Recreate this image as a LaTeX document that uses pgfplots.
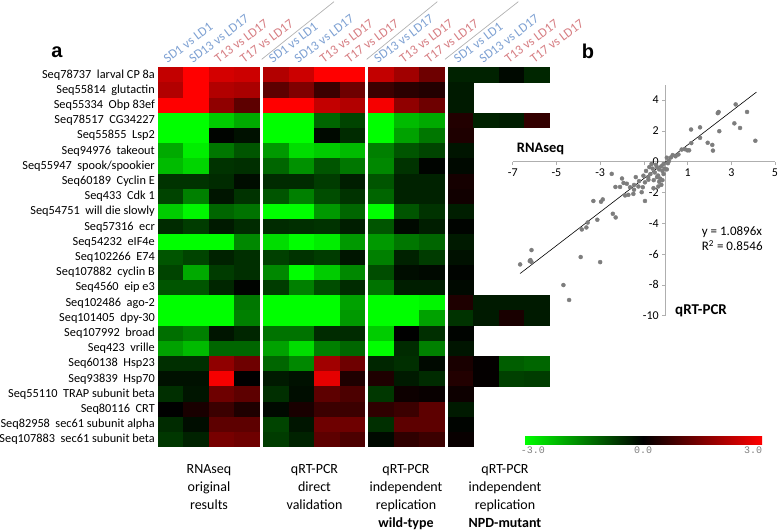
\documentclass[border=0pt]{standalone}
\usepackage{fontspec}
\setmainfont{Carlito}
\newfontfamily\arialfont{Liberation Sans}
\newfontfamily\cbmono{Liberation Mono}
\usepackage{pgfplots}
\pgfplotsset{compat=1.18}
\definecolor{sdb}{RGB}{125,160,210}
\definecolor{tr}{RGB}{214,125,130}
\definecolor{axg}{RGB}{175,175,175}
\definecolor{dot}{RGB}{125,125,125}
\pgfdeclareplotmark{cell}{\pgfpathrectangle{\pgfpoint{-12.9pt}{-7.75pt}}{\pgfpoint{25.8pt}{15.5pt}}\pgfusepathqfill}
\pgfplotsset{colormap={gr}{rgb255=(0,255,0) rgb255=(0,0,0) rgb255=(255,0,0)}}
\newcommand{\gp}{\hspace{0.45em}}
\newcommand{\fs}[1]{\fontsize{#1}{#1}\selectfont}
\newcommand{\hA}{\textcolor{sdb}{SD1 vs LD1}}
\newcommand{\hB}{\textcolor{sdb}{SD13 vs LD17}}
\newcommand{\hC}{\textcolor{tr}{T13 vs LD17}}
\newcommand{\hD}{\textcolor{tr}{T17 vs LD17}}
\begin{document}
\begin{tikzpicture}
\useasboundingbox (0,0) rectangle (778pt,531pt);
% ---------------- heatmap (a) ----------------
\begin{axis}[
  at={(158pt,83.7pt)}, anchor=south west,
  x=25.5pt, y=15.2pt,
  xmin=-0.5, xmax=14.875, ymin=0.5, ymax=25.5,
  clip=false,
  axis line style={draw=none},
  major tick length=0pt,
  tick style={draw=none},
  xticklabel pos=right,
  xtick={0,1,2,3,4.125,5.125,6.125,7.125,8.25,9.25,10.25,11.375,12.375,13.375,14.375},
  xticklabels={\hA,\hB,\hC,\hD,\hA,\hB,\hC,\hD,\hB,\hC,\hD,\hA,\hB,\hC,\hD},
  xticklabel style={xshift=-3pt, yshift=3.5pt, rotate=37, anchor=south west, inner sep=0pt, font=\fs{13}},
  ytick={25,24,...,1},
  yticklabels={Seq78737\gp larval CP 8a, Seq55814\gp glutactin, Seq55334\gp Obp 83ef, Seq78517\gp CG34227, Seq55855\gp Lsp2, Seq94976\gp takeout, Seq55947\gp spook/spookier, Seq60189\gp Cyclin E, Seq433\gp Cdk 1, Seq54751\gp will die slowly, Seq57316\gp ecr, Seq54232\gp eIF4e, Seq102266\gp E74, Seq107882\gp cyclin B, Seq4560\gp eip e3, Seq102486\gp ago-2, Seq101405\gp dpy-30, Seq107992\gp broad, Seq423\gp vrille, Seq60138\gp Hsp23, Seq93839\gp Hsp70, Seq55110\gp TRAP subunit beta, Seq80116\gp CRT, Seq82958\gp sec61 subunit alpha, Seq107883\gp sec61 subunit beta},
  yticklabel style={anchor=east, inner sep=0pt, xshift=-3pt, font=\fs{12.3}},
  colormap name=gr, point meta min=-3, point meta max=3,
]
% panel 1: RNAseq original results
\addplot[scatter, only marks, mark=cell, point meta=explicit, scatter/use mapped color={draw=none,fill=mapped color}] coordinates {
(0,25)[2.3] (1,25)[3] (2,25)[2.5] (3,25)[2.4]
(0,24)[2.1] (1,24)[3] (2,24)[2.1] (3,24)[2.0]
(0,23)[3] (1,23)[3] (2,23)[1.7] (3,23)[1.1]
(0,22)[-3] (1,22)[-3] (2,22)[-2.4] (3,22)[-2.0]
(0,21)[-3] (1,21)[-3] (2,21)[-0.05] (3,21)[-0.2]
(0,20)[-2.0] (1,20)[-2.8] (2,20)[-1.4] (3,20)[-1.0]
(0,19)[-2.2] (1,19)[-2.5] (2,19)[-0.6] (3,19)[-0.55]
(0,18)[-0.6] (1,18)[-0.6] (2,18)[-0.5] (3,18)[-0.15]
(0,17)[-0.8] (1,17)[-1.5] (2,17)[-0.25] (3,17)[-0.6]
(0,16)[-2.4] (1,16)[-2.9] (2,16)[-1.2] (3,16)[-1.35]
(0,15)[-0.5] (1,15)[-0.7] (2,15)[-0.3] (3,15)[-0.5]
(0,14)[-3] (1,14)[-3] (2,14)[-3] (3,14)[-1.6]
(0,13)[-1.0] (1,13)[-0.8] (2,13)[-0.4] (3,13)[-0.55]
(0,12)[-0.8] (1,12)[-2.0] (2,12)[-0.7] (3,12)[-0.55]
(0,11)[-1.0] (1,11)[-1.0] (2,11)[-0.45] (3,11)[-0.05]
(0,10)[-3] (1,10)[-3] (2,10)[-3] (3,10)[-1.4]
(0,9)[-3] (1,9)[-3] (2,9)[-3] (3,9)[-1.5]
(0,8)[-1.3] (1,8)[-1.5] (2,8)[-0.25] (3,8)[-0.45]
(0,7)[-1.9] (1,7)[-2.2] (2,7)[-1.2] (3,7)[-1.2]
(0,6)[-0.55] (1,6)[-0.55] (2,6)[1.7] (3,6)[1.3]
(0,5)[-0.2] (1,5)[-0.2] (2,5)[2.9] (3,5)[0]
(0,4)[-0.55] (1,4)[-0.25] (2,4)[1.3] (3,4)[1.1]
(0,3)[0] (1,3)[0.3] (2,3)[0.7] (3,3)[0.35]
(0,2)[-0.5] (1,2)[-0.15] (2,2)[1.1] (3,2)[1.1]
(0,1)[-0.65] (1,1)[-0.4] (2,1)[1.4] (3,1)[1.3]
};
% panel 2: qRT-PCR direct validation
\addplot[scatter, only marks, mark=cell, point meta=explicit, scatter/use mapped color={draw=none,fill=mapped color}] coordinates {
(4.125,25)[2.1] (5.125,25)[2.4] (6.125,25)[3] (7.125,25)[3]
(4.125,24)[1.1] (5.125,24)[1.5] (6.125,24)[0.7] (7.125,24)[1.3]
(4.125,23)[3] (5.125,23)[3] (6.125,23)[2.3] (7.125,23)[2.1]
(4.125,22)[-3] (5.125,22)[-3] (6.125,22)[-1.2] (7.125,22)[-0.8]
(4.125,21)[-3] (5.125,21)[-3] (6.125,21)[-0.1] (7.125,21)[-0.5]
(4.125,20)[-1.8] (5.125,20)[-2.6] (6.125,20)[-2.4] (7.125,20)[-2.2]
(4.125,19)[-1.2] (5.125,19)[-1.7] (6.125,19)[-1.0] (7.125,19)[-1.4]
(4.125,18)[-0.5] (5.125,18)[-0.5] (6.125,18)[-0.7] (7.125,18)[-0.35]
(4.125,17)[-1.0] (5.125,17)[-1.5] (6.125,17)[-0.9] (7.125,17)[-0.6]
(4.125,16)[-3] (5.125,16)[-3] (6.125,16)[-1.8] (7.125,16)[-1.2]
(4.125,15)[-0.5] (5.125,15)[-0.55] (6.125,15)[-0.6] (7.125,15)[-0.35]
(4.125,14)[-2.6] (5.125,14)[-3] (6.125,14)[-2.8] (7.125,14)[-1.8]
(4.125,13)[-0.75] (5.125,13)[-0.6] (6.125,13)[-0.7] (7.125,13)[-0.25]
(4.125,12)[-1.6] (5.125,12)[-3] (6.125,12)[-2.4] (7.125,12)[-1.6]
(4.125,11)[-0.7] (5.125,11)[-1.5] (6.125,11)[-0.9] (7.125,11)[-0.5]
(4.125,10)[-3] (5.125,10)[-3] (6.125,10)[-3] (7.125,10)[-1.9]
(4.125,9)[-3] (5.125,9)[-3] (6.125,9)[-3] (7.125,9)[-1.8]
(4.125,8)[-1.35] (5.125,8)[-1.35] (6.125,8)[-0.5] (7.125,8)[-0.5]
(4.125,7)[-1.9] (5.125,7)[-2.6] (6.125,7)[-1.5] (7.125,7)[-1.2]
(4.125,6)[-1.2] (5.125,6)[-1.6] (6.125,6)[1.9] (7.125,6)[1.3]
(4.125,5)[-0.3] (5.125,5)[-0.2] (6.125,5)[2.7] (7.125,5)[0.35]
(4.125,4)[-0.55] (5.125,4)[-0.15] (6.125,4)[1.1] (7.125,4)[0.9]
(4.125,3)[-0.1] (5.125,3)[0.3] (6.125,3)[0.7] (7.125,3)[0.7]
(4.125,2)[-0.8] (5.125,2)[-0.25] (6.125,2)[1.3] (7.125,2)[1.3]
(4.125,1)[-0.7] (5.125,1)[-0.4] (6.125,1)[1.1] (7.125,1)[0.9]
};
% panel 3: qRT-PCR independent replication wild-type
\addplot[scatter, only marks, mark=cell, point meta=explicit, scatter/use mapped color={draw=none,fill=mapped color}] coordinates {
(8.25,25)[2.3] (9.25,25)[1.9] (10.25,25)[1.3]
(8.25,24)[0.7] (9.25,24)[0.5] (10.25,24)[0.4]
(8.25,23)[2.9] (9.25,23)[1.7] (10.25,23)[1.3]
(8.25,22)[-3] (9.25,22)[-2.2] (10.25,22)[-2.0]
(8.25,21)[-3] (9.25,21)[-1.9] (10.25,21)[-1.4]
(8.25,20)[-1.5] (9.25,20)[-1.0] (10.25,20)[-0.8]
(8.25,19)[-1.6] (9.25,19)[-0.6] (10.25,19)[-0.05]
(8.25,18)[-1.0] (9.25,18)[-0.4] (10.25,18)[-0.4]
(8.25,17)[-1.2] (9.25,17)[-0.4] (10.25,17)[-0.4]
(8.25,16)[-3] (9.25,16)[-1.0] (10.25,16)[-0.6]
(8.25,15)[-1.0] (9.25,15)[-0.1] (10.25,15)[-0.35]
(8.25,14)[-1.8] (9.25,14)[-1.4] (10.25,14)[-1.2]
(8.25,13)[-1.5] (9.25,13)[-0.4] (10.25,13)[-0.7]
(8.25,12)[-0.9] (9.25,12)[-0.15] (10.25,12)[-0.1]
(8.25,11)[-1.35] (9.25,11)[-0.35] (10.25,11)[-0.35]
(8.25,10)[-3] (9.25,10)[-3] (10.25,10)[-2.9]
(8.25,9)[-3] (9.25,9)[-3] (10.25,9)[-1.9]
(8.25,8)[-2.4] (9.25,8)[0] (10.25,8)[-0.55]
(8.25,7)[-3] (9.25,7)[-0.5] (10.25,7)[-1.5]
(8.25,6)[-0.45] (9.25,6)[-0.55] (10.25,6)[-0.1]
(8.25,5)[0.35] (9.25,5)[-0.3] (10.25,5)[-0.5]
(8.25,4)[-0.65] (9.25,4)[0.15] (10.25,4)[0.1]
(8.25,3)[0.55] (9.25,3)[0.7] (10.25,3)[1.1]
(8.25,2)[-0.55] (9.25,2)[1.1] (10.25,2)[1.1]
(8.25,1)[-0.1] (9.25,1)[0.55] (10.25,1)[0.7]
};
% panel 4: qRT-PCR independent replication NPD-mutant
\addplot[scatter, only marks, mark=cell, point meta=explicit, scatter/use mapped color={draw=none,fill=mapped color}] coordinates {
(11.375,25)[-0.4] (12.375,25)[-0.4] (13.375,25)[-0.1] (14.375,25)[-0.45]
(11.375,24)[-0.3]
(11.375,23)[-0.3]
(11.375,22)[0.4] (12.375,22)[-0.4] (13.375,22)[-0.35] (14.375,22)[0.6]
(11.375,21)[0.35]
(11.375,20)[-0.25]
(11.375,19)[-0.1]
(11.375,18)[0.25]
(11.375,17)[0.2]
(11.375,16)[-0.35]
(11.375,15)[-0.05]
(11.375,14)[-0.3]
(11.375,13)[-0.2]
(11.375,12)[-0.05]
(11.375,11)[-0.1]
(11.375,10)[0.35] (12.375,10)[-0.3] (13.375,10)[-0.3] (14.375,10)[-0.3]
(11.375,9)[-0.6] (12.375,9)[-0.3] (13.375,9)[0.3] (14.375,9)[-0.3]
(11.375,8)[-0.05]
(11.375,7)[-0.25]
(11.375,6)[0.3] (12.375,6)[0.05] (13.375,6)[-1.1] (14.375,6)[-1.2]
(11.375,5)[0.4] (12.375,5)[0.05] (13.375,5)[-0.75] (14.375,5)[-0.7]
(11.375,4)[0.15]
(11.375,3)[-0.3]
(11.375,2)[-0.05]
(11.375,1)[0.1]
};
\end{axis}
% header separator lines
\draw[gray!60, line width=0.7pt] (261.7pt,471.7pt) -- (334pt,529.3pt);
\draw[gray!60, line width=0.7pt] (366.7pt,471.7pt) -- (437.3pt,529.3pt);
\draw[gray!60, line width=0.7pt] (445pt,471.7pt) -- (518.3pt,529.3pt);
% bottom labels
\node[align=center, anchor=north, inner sep=0pt, font=\fontsize{14}{18}\selectfont] at (209pt,66.5pt) {RNAseq\\original\\results};
\node[align=center, anchor=north, inner sep=0pt, font=\fontsize{14}{18}\selectfont] at (314.5pt,66.5pt) {qRT-PCR\\direct\\validation};
\node[align=center, anchor=north, inner sep=0pt, font=\fontsize{14}{18}\selectfont] at (406pt,66.5pt) {qRT-PCR\\independent\\replication\\\textbf{wild-type}};
\node[align=center, anchor=north, inner sep=0pt, font=\fontsize{14}{18}\selectfont] at (505pt,66.5pt) {qRT-PCR\\independent\\replication\\\textbf{NPD-mutant}};
% panel letters
\node[font=\arialfont\bfseries\fs{20}] at (57pt,479pt) {a};
\node[font=\arialfont\bfseries\fs{20}] at (588pt,480pt) {b};
% ---------------- scatter (b) ----------------
\begin{axis}[
  at={(512.7pt,215.3pt)}, anchor=south west,
  x=21.86pt, y=15.4pt,
  xmin=-7, xmax=5, ymin=-10, ymax=5,
  axis lines=middle,
  axis line style={axg, -, line width=0.6pt},
  tick style={axg, line width=0.6pt},
  tick align=outside, major tick length=3.5pt,
  xtick={-7,-5,-3,-1,1,3,5}, xticklabels={-7,-5,-3,,1,3,5},
  ytick={-10,-8,...,4}, yticklabels={-10,-8,-6,-4,-2,0,2,4},
  hide obscured x ticks=false, hide obscured y ticks=false,
  tick label style={font=\fs{12}},
  clip=false,
]
\addplot[only marks, mark=*, mark size=2pt, color=dot, mark options={draw=dot, fill=dot}] coordinates {
(3.2,3.72) (2.38,3.15) (2.42,3.23) (3.72,3.23) (1.16,2.09) (1.57,2.23) (3.14,2.49) (3.4,2.19) (2.45,1.98) (4.1,1.36)
(1.57,1.55) (1.92,1.23) (2.13,1.09) (2.16,0.72) (1.17,1.21) (0.73,0.79) (0.88,0.81) (0.99,0.74) (1.07,0.74) (0.32,0.43)
(0.58,0.47) (0.24,0.28) (0.05,0.26) (0.45,0.35)
(0.1,-0.1) (0.15,0.05) (-0.1,-0.15) (-0.2,-0.3) (-0.3,-0.5) (-0.15,-0.6) (-0.4,-0.35) (-0.5,-0.7) (-0.6,-0.45) (-0.35,-0.9)
(-0.25,-1.1) (-0.7,-0.8) (-0.8,-1.0) (-0.55,-1.2) (-0.45,-0.2) (-0.05,-0.45) (-0.9,-0.6) (-0.65,-0.15) (-0.3,-1.3) (-0.1,-0.8)
(0.05,-0.5) (-0.2,-1.5) (-0.4,-1.0) (-0.75,-0.35) (-0.15,-1.2)
(-2.47,-0.79) (-2.0,-1.09) (-1.93,-1.38) (-2.3,-1.64) (-2.09,-1.64) (-1.78,-1.43) (-1.63,-1.66) (-1.45,-1.51) (-1.37,-1.0) (-1.22,-1.26)
(-1.86,-2.19) (-1.48,-2.09) (-1.1,-1.98) (-1.05,-1.66) (-1.02,-0.91) (-0.95,-1.34) (-0.79,-1.17) (-0.95,-2.55) (-3.31,-2.55) (-2.88,-2.45)
(-2.96,-2.6) (-1.71,-2.15) (-1.45,-1.82) (-1.25,-1.61) (-0.56,-1.72) (-0.34,-1.61)
(-6.66,-6.67) (-6.14,-5.74) (-6.19,-6.39) (-6.14,-6.52) (-6.22,-6.45) (-4.68,-8.01) (-4.42,-8.98) (-3.89,-6.19) (-3.0,-6.52) (-3.84,-4.4)
(-3.63,-4.27) (-3.57,-3.95) (-3.13,-3.77) (-2.42,-3.38) (-2.29,-3.62)
};
\addplot[black, line width=0.6pt, no marks] coordinates {(-6.66,-7.26) (4.15,4.52)};
\end{axis}
\node[anchor=base west, inner sep=0pt, font=\bfseries\fs{14.5}] at (516.7pt,378pt) {RNAseq};
\node[anchor=base west, inner sep=0pt, font=\bfseries\fs{15}] at (675pt,217pt) {qRT-PCR};
\node[anchor=base west, inner sep=0pt, font=\fs{13}] at (701.7pt,295.5pt) {y = 1.0896x};
\node[anchor=base west, inner sep=0pt, font=\fs{13}] at (701.7pt,280.5pt) {R\textsuperscript{2} = 0.8546};
% ---------------- colour bar ----------------
\begin{axis}[
  at={(524pt,95pt)}, anchor=south west, scale only axis, width=238pt, height=8.3pt,
  axis line style={draw=none}, ticks=none, xmin=0, xmax=1, ymin=0, ymax=1,
  colormap name=gr, point meta min=-3.24, point meta max=3.24,
  colorbar horizontal,
  colorbar style={at={(parent axis.south west)}, anchor=south west, scale only axis, width=238pt, height=8.3pt,
    xtick={-3,0,3}, xticklabels={-3.0,0.0,3.0},
    xticklabel style={font=\cbmono\fs{10}, text=gray, inner sep=2pt},
    axis line style={draw=none}, major tick length=0pt, tick style={draw=none}},
]
\addplot[draw=none, no marks] coordinates {(0.5,0.5)};
\end{axis}
\end{tikzpicture}
\end{document}
